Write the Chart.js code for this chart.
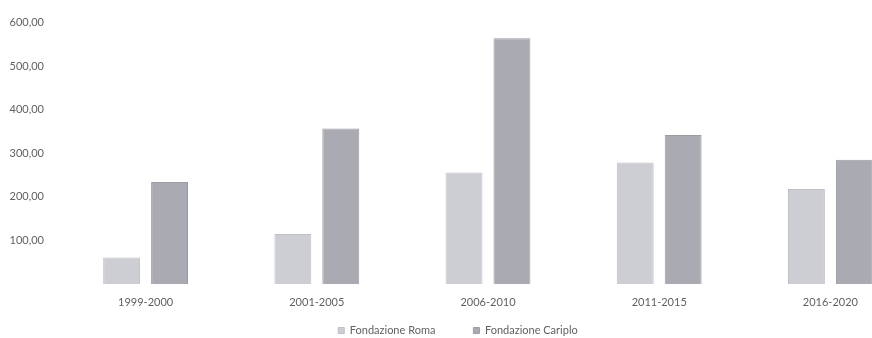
<!DOCTYPE html>
<html>
<head>
<meta charset="utf-8">
<script src="https://cdn.jsdelivr.net/npm/chart.js@4/dist/chart.umd.min.js"></script>
<style>
  html, body { margin: 0; padding: 0; background: #ffffff; overflow: hidden; }
  #wrap { width: 935px; height: 338px; }
</style>
</head>
<body>
<div id="wrap"><canvas id="c" width="935" height="338"></canvas></div>
<script>
// Periods on the category axis
const periods = ['1999-2000', '2001-2005', '2006-2010', '2011-2015', '2016-2020'];
// Series values
const fondazioneRoma = [61, 115, 256, 279, 218];
const fondazioneCariplo = [234, 357, 564, 342, 285];
// Value axis ticks
const yTicks = [100, 200, 300, 400, 500, 600];

const fmt = v => v.toFixed(2).replace('.', ',');
const textGrey = '#616161';

new Chart(document.getElementById('c'), {
  type: 'bar',
  data: {
    labels: periods,
    datasets: [
      {
        label: 'Fondazione Roma',
        data: fondazioneRoma,
        backgroundColor: '#cdcdd4',
        borderColor: '#bfbfc7',
        borderWidth: 1,
        barPercentage: 0.77,
        categoryPercentage: 0.56
      },
      {
        label: 'Fondazione Cariplo',
        data: fondazioneCariplo,
        backgroundColor: '#aaaab2',
        borderColor: '#9b9ba4',
        borderWidth: 1,
        barPercentage: 0.77,
        categoryPercentage: 0.56
      }
    ]
  },
  options: {
    responsive: false,
    animation: false,
    layout: { padding: { top: 17, right: 19, left: 0, bottom: 0 } },
    plugins: {
      tooltip: { enabled: false },
      legend: {
        position: 'bottom',
        maxHeight: 51,
        labels: {
          boxWidth: 6,
          boxHeight: 6,
          padding: 38,
          color: textGrey,
          font: { family: 'Lato', size: 11 }
        }
      }
    },
    scales: {
      x: {
        grid: { display: false, drawTicks: false },
        border: { display: false },
        ticks: {
          // labels sit below the baseline; the thin axis box leaves room for the wide legend
          mirror: true,
          padding: -24.6,
          color: textGrey,
          font: { family: 'Lato', size: 11 }
        },
        afterFit: s => { s.height = 3; }
      },
      y: {
        min: 0,
        max: 600,
        afterBuildTicks: s => { s.ticks = [0, ...yTicks].map(v => ({ value: v })); },
        grid: { display: false, drawTicks: false },
        border: { display: false },
        ticks: {
          padding: 16,
          color: textGrey,
          font: { family: 'Lato', size: 11 },
          callback: v => (v === 0 ? '' : fmt(v))
        },
        afterFit: s => { s.width = 60; }
      }
    }
  }
});
</script>
</body>
</html>
